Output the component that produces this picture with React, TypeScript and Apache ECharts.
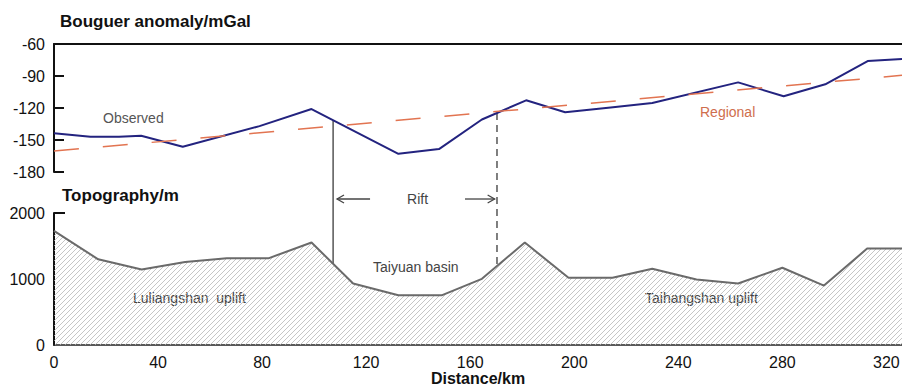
import React, { useEffect, useRef } from "react";
import * as echarts from "echarts";

// Observed Bouguer anomaly (mGal) along the profile
const obsKm = [0, 14, 25, 33.5, 49.5, 79, 99, 132.4, 148, 164.5, 181.5, 196.5, 214, 230, 263, 280.5, 296.5, 312.8, 326];
const obsVal = [-143.6, -147, -147, -146, -156.4, -137, -121, -163, -158.5, -130.8, -112.8, -124, -119.5, -115.3, -96, -109, -97.8, -76, -74];

// Regional anomaly (mGal)
const regKm = [0, 326];
const regVal = [-160.4, -89.4];

// Topography (m)
const topoKm = [0, 17, 33.7, 50.4, 66.4, 82.4, 99, 115, 132.4, 149, 164.5, 181, 197.8, 214.7, 230, 247, 263, 280, 296, 312.6, 326];
const topoVal = [1730, 1298, 1145, 1257, 1313, 1313, 1553, 931, 753, 753, 1003, 1553, 1018, 1018, 1155, 992, 931, 1171, 900, 1461, 1461];

// Rift boundaries (km) and arrow extents (km)
const riftKm = [107.3, 170.3];
const arrowLeft = [121.5, 108.8];
const arrowRight = [158, 169.4];
const arrowLevel = 2212; // in topography units (just above the lower panel)

const FONT = "'Liberation Sans', Arial, sans-serif";

function interp(xs: number[], ys: number[], x: number) {
  for (let i = 0; i < xs.length - 1; i++) {
    if (x >= xs[i] && x <= xs[i + 1]) {
      const t = (x - xs[i]) / (xs[i + 1] - xs[i]);
      return ys[i] + t * (ys[i + 1] - ys[i]);
    }
  }
  return ys[ys.length - 1];
}

const hatchSvg =
  '<svg xmlns="http://www.w3.org/2000/svg" width="5" height="5">' +
  '<path d="M0 5 L5 0 M-1 1 L1 -1 M4 6 L6 4" stroke="#b8b8b8" stroke-width="0.8"/></svg>';
const hatchUrl = "data:image/svg+xml;utf8," + encodeURIComponent(hatchSvg);

export default function App() {
  const ref = useRef<HTMLDivElement>(null);
  useEffect(() => {
    if (!ref.current) return;
    const chart = echarts.init(ref.current, null, { renderer: "svg" });
    const grids = [
      { left: 54, right: 0, top: 44, height: 128, outerBoundsMode: "none", containLabel: false },
      { left: 54, right: 0, top: 213, height: 132, outerBoundsMode: "none", containLabel: false },
    ];
    const plain = (v: number) => String(v);
    chart.setOption({
      animation: false,
      grid: grids,
      xAxis: [
        {
          gridIndex: 0, type: "value", min: 0, max: 326, position: "top",
          axisLine: { show: true, lineStyle: { color: "#111", width: 2 } },
          axisTick: { show: false }, axisLabel: { show: false }, splitLine: { show: false },
        },
        {
          gridIndex: 1, type: "value", min: 0, max: 326, interval: 40, position: "bottom",
          axisLine: { show: true, lineStyle: { color: "#222", width: 1.5 } },
          axisTick: { show: false },
          axisLabel: { fontSize: 16, color: "#111", margin: 9, fontFamily: FONT, showMaxLabel: false, formatter: plain },
          splitLine: { show: false },
          name: "Distance/km", nameLocation: "middle", nameGap: 19,
          nameTextStyle: { fontSize: 16, fontWeight: "bold", color: "#111", fontFamily: FONT, verticalAlign: "top" },
        },
      ],
      yAxis: [
        {
          gridIndex: 0, type: "value", min: -180, max: -60, interval: 30,
          axisLine: { show: true, lineStyle: { color: "#111", width: 2 } },
          axisTick: { show: true, inside: true, length: 10, lineStyle: { color: "#111", width: 2 } },
          axisLabel: { fontSize: 16, color: "#111", margin: 9, fontFamily: FONT, formatter: plain },
          splitLine: { show: false },
        },
        {
          gridIndex: 1, type: "value", min: 0, max: 2000, interval: 1000,
          axisLine: { show: true, lineStyle: { color: "#111", width: 2 } },
          axisTick: { show: true, inside: true, length: 11, customValues: [2000], lineStyle: { color: "#111", width: 2 } },
          axisLabel: { fontSize: 16, color: "#111", margin: 9, fontFamily: FONT, formatter: plain },
          splitLine: { show: false },
        },
      ],
      series: [
        {
          name: "Observed", type: "line", xAxisIndex: 0, yAxisIndex: 0, symbol: "none",
          data: obsKm.map((k, i) => [k, obsVal[i]]),
          lineStyle: { color: "#23237f", width: 2 },
        },
        {
          name: "Regional", type: "line", xAxisIndex: 0, yAxisIndex: 0, symbol: "none",
          data: regKm.map((k, i) => [k, regVal[i]]),
          lineStyle: { color: "#e27451", width: 1.5, type: [25, 24] },
        },
        {
          name: "Topography", type: "line", xAxisIndex: 1, yAxisIndex: 1, symbol: "none",
          data: topoKm.map((k, i) => [k, topoVal[i]]),
          lineStyle: { color: "#6a6a6a", width: 2 },
          areaStyle: {
            color: { image: hatchUrl, repeat: "repeat", imageWidth: 5, imageHeight: 5 },
            opacity: 1,
          },
        },
      ],
    });

    const p0 = (x: number, y: number) => chart.convertToPixel({ gridIndex: 0 }, [x, y]) as number[];
    const p1 = (x: number, y: number) => chart.convertToPixel({ gridIndex: 1 }, [x, y]) as number[];

    const rTop0 = p0(riftKm[0], interp(obsKm, obsVal, riftKm[0]));
    const rBot0 = p1(riftKm[0], interp(topoKm, topoVal, riftKm[0]));
    const rTop1 = p0(riftKm[1], interp(obsKm, obsVal, riftKm[1]));
    const rBot1 = p1(riftKm[1], interp(topoKm, topoVal, riftKm[1]));
    const aL0 = p1(arrowLeft[0], arrowLevel);
    const aL1 = p1(arrowLeft[1], arrowLevel);
    const aR0 = p1(arrowRight[0], arrowLevel);
    const aR1 = p1(arrowRight[1], arrowLevel);
    const riftMid = p1((arrowLeft[0] + arrowRight[0]) / 2, arrowLevel);

    const txt = (x: number, y: number, text: string, fill: string, size: number, bold = false, align = "left") => ({
      type: "text", x, y, silent: true,
      style: {
        text, fill, font: `${bold ? "bold " : ""}${size}px ${FONT}`,
        align, verticalAlign: "middle", textAlign: align, textVerticalAlign: "middle",
      },
    });
    const lineStyle = { stroke: "#555", lineWidth: 1.5 };

    chart.setOption({
      graphic: [
        txt(60, 21, "Bouguer anomaly/mGal", "#111", 17, true),
        txt(62, 195, "Topography/m", "#111", 17, true),
        txt(103, 118, "Observed", "#555", 14),
        txt(700, 112, "Regional", "#cf6e4d", 14),
        txt(133, 298, "Luliangshan  uplift", "#444", 14),
        txt(373, 267, "Taiyuan basin", "#444", 14),
        txt(645, 298, "Taihangshan uplift", "#444", 14),
        txt(riftMid[0], riftMid[1], "Rift", "#444", 14, false, "center"),
        { type: "line", silent: true, shape: { x1: rTop0[0], y1: rTop0[1], x2: rBot0[0], y2: rBot0[1] }, style: lineStyle },
        { type: "line", silent: true, shape: { x1: rTop1[0], y1: rTop1[1], x2: rBot1[0], y2: rBot1[1] }, style: { ...lineStyle, lineDash: [7, 5] } },
        { type: "line", silent: true, shape: { x1: aL0[0], y1: aL0[1], x2: aL1[0], y2: aL1[1] }, style: { stroke: "#444", lineWidth: 1.3 } },
        { type: "polyline", silent: true, shape: { points: [[aL1[0] + 7, aL1[1] - 4], [aL1[0], aL1[1]], [aL1[0] + 7, aL1[1] + 4]] }, style: { stroke: "#444", lineWidth: 1.3, fill: null } },
        { type: "line", silent: true, shape: { x1: aR0[0], y1: aR0[1], x2: aR1[0], y2: aR1[1] }, style: { stroke: "#444", lineWidth: 1.3 } },
        { type: "polyline", silent: true, shape: { points: [[aR1[0] - 7, aR1[1] - 4], [aR1[0], aR1[1]], [aR1[0] - 7, aR1[1] + 4]] }, style: { stroke: "#444", lineWidth: 1.3, fill: null } },
      ],
    });
    return () => chart.dispose();
  }, []);
  return (
    <div
      ref={ref}
      style={{ position: "fixed", left: 0, top: 0, width: 902, height: 386, background: "#fff" }}
    />
  );
}
